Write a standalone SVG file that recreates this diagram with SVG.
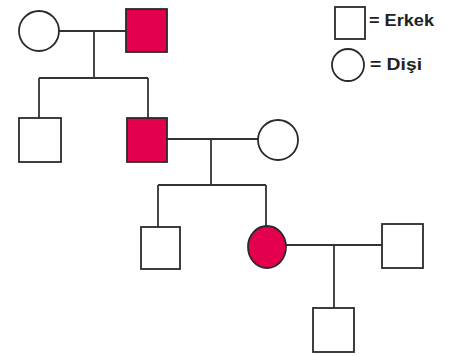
<svg xmlns="http://www.w3.org/2000/svg" width="449" height="356" viewBox="0 0 449 356">
<style>
.n{fill:#fff;stroke:#2a2a2a;stroke-width:1.8}
.a{fill:#e5004f;stroke:#2a2a2a;stroke-width:1.8}
.l{fill:none;stroke:#333;stroke-width:1.8}
.t{font-family:"Liberation Sans",Arial,sans-serif;font-size:17px;font-weight:bold;fill:#222}
</style>
<rect width="449" height="356" fill="#fff"/>
<g id="connectors">
<path class="l" d="M59 31H126M94 31V78M39 78H148M39 78V118M148 78V118"/>
<path class="l" d="M167 139H258M211 139V185M158 185H266M158 185V227M266 185V226"/>
<path class="l" d="M286 245H382M334 245V308"/>
</g>
<g id="g1-female"><circle class="n" cx="39" cy="31" r="20"/></g>
<g id="g1-male"><rect class="a" x="126" y="9" width="41" height="43"/></g>
<g id="g2-male1"><rect class="n" x="19" y="118" width="42" height="44"/></g>
<g id="g2-male2"><rect class="a" x="127" y="118" width="40" height="44"/></g>
<g id="g2-spouse"><circle class="n" cx="278" cy="140" r="20"/></g>
<g id="g3-male"><rect class="n" x="141" y="227" width="39" height="42"/></g>
<g id="g3-female"><ellipse class="a" cx="267" cy="247" rx="19" ry="21"/></g>
<g id="g3-spouse"><rect class="n" x="382" y="224" width="41" height="44"/></g>
<g id="g4-male"><rect class="n" x="313" y="308" width="41" height="44"/></g>
<g id="legend">
<rect class="n" x="335" y="7" width="30" height="32"/>
<text class="t" x="369" y="26" textLength="65" lengthAdjust="spacingAndGlyphs">= Erkek</text>
<circle class="n" cx="348" cy="65" r="16"/>
<text class="t" x="370" y="70" textLength="52" lengthAdjust="spacingAndGlyphs">= Dişi</text>
</g>
</svg>
